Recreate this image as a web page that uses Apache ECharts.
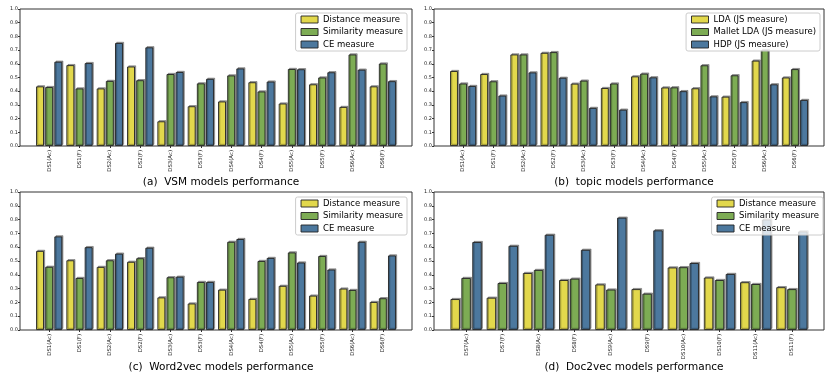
<!DOCTYPE html>
<html>
<head>
<meta charset="utf-8">
<script src="https://cdn.jsdelivr.net/npm/echarts@6/dist/echarts.min.js"></script>
<style>
  html, body { margin: 0; padding: 0; background: #fff; }
  #chart { width: 830px; height: 374px; }
</style>
</head>
<body>
<div id="chart"></div>
<script>
// Categories
const catsA = ['DS1(Ac)', 'DS1(F)', 'DS2(Ac)', 'DS2(F)', 'DS3(Ac)', 'DS3(F)', 'DS4(Ac)', 'DS4(F)', 'DS5(Ac)', 'DS5(F)', 'DS6(Ac)', 'DS6(F)'];
const catsD = ['DS7(Ac)', 'DS7(F)', 'DS8(Ac)', 'DS8(F)', 'DS9(Ac)', 'DS9(F)', 'DS10(Ac)', 'DS10(F)', 'DS11(Ac)', 'DS11(F)'];

// (a) VSM
const vsmDistance   = [0.435, 0.59, 0.42, 0.58, 0.18, 0.29, 0.325, 0.465, 0.31, 0.45, 0.285, 0.435];
const vsmSimilarity = [0.43, 0.42, 0.475, 0.48, 0.525, 0.457, 0.515, 0.398, 0.562, 0.50, 0.668, 0.602];
const vsmCE         = [0.615, 0.605, 0.752, 0.72, 0.54, 0.49, 0.566, 0.47, 0.56, 0.538, 0.557, 0.473];

// (b) topic models
const topicLDA    = [0.547, 0.525, 0.668, 0.68, 0.455, 0.423, 0.508, 0.427, 0.421, 0.36, 0.623, 0.50];
const topicMallet = [0.456, 0.472, 0.668, 0.685, 0.477, 0.456, 0.528, 0.428, 0.589, 0.516, 0.70, 0.561];
const topicHDP    = [0.438, 0.368, 0.537, 0.498, 0.278, 0.265, 0.501, 0.40, 0.362, 0.32, 0.45, 0.336];

// (c) Word2vec
const w2vDistance   = [0.573, 0.505, 0.457, 0.494, 0.236, 0.192, 0.292, 0.225, 0.32, 0.249, 0.30, 0.203];
const w2vSimilarity = [0.458, 0.377, 0.505, 0.52, 0.382, 0.348, 0.639, 0.50, 0.562, 0.536, 0.29, 0.23];
const w2vCE         = [0.678, 0.60, 0.553, 0.596, 0.386, 0.348, 0.659, 0.522, 0.489, 0.438, 0.639, 0.54];

// (d) Doc2vec
const d2vDistance   = [0.224, 0.234, 0.413, 0.362, 0.33, 0.296, 0.453, 0.38, 0.346, 0.31];
const d2vSimilarity = [0.377, 0.34, 0.435, 0.372, 0.293, 0.263, 0.455, 0.362, 0.333, 0.296];
const d2vCE         = [0.637, 0.61, 0.69, 0.581, 0.814, 0.722, 0.485, 0.406, 0.80, 0.714];

const YELLOW = '#e2d84c', GREEN = '#7dac54', BLUE = '#4c789e';
const FONT = 'DejaVu Sans';

const panels = [
    { title: '(a)  VSM models performance', left: 20, top: 9, width: 392, height: 137, titleTop: 172, legendRight: 423, legendTop: 13,
      cats: catsA, series: [['Distance measure', vsmDistance, YELLOW], ['Similarity measure', vsmSimilarity, GREEN], ['CE measure', vsmCE, BLUE]] },
    { title: '(b)  topic models performance', left: 434, top: 9, width: 390, height: 137, titleTop: 172, legendRight: 10, legendTop: 13,
      cats: catsA, series: [['LDA (JS measure)', topicLDA, YELLOW], ['Mallet LDA (JS measure)', topicMallet, GREEN], ['HDP (JS measure)', topicHDP, BLUE]] },
    { title: '(c)  Word2vec models performance', left: 20, top: 192, width: 392, height: 138, titleTop: 357, legendRight: 423, legendTop: 197,
      cats: catsA, series: [['Distance measure', w2vDistance, YELLOW], ['Similarity measure', w2vSimilarity, GREEN], ['CE measure', w2vCE, BLUE]] },
    { title: '(d)  Doc2vec models performance', left: 434, top: 192, width: 390, height: 138, titleTop: 357, legendRight: 7, legendTop: 197,
      cats: catsD, series: [['Distance measure', d2vDistance, YELLOW], ['Similarity measure', d2vSimilarity, GREEN], ['CE measure', d2vCE, BLUE]] }
];

const grid = [], xAxis = [], yAxis = [], series = [], title = [], legend = [];
const inset = 14;

panels.forEach((p, i) => {
    const f = 2 * i, d = 2 * i + 1;
    // frame grid: box + y axis
    grid.push({ left: p.left, top: p.top, width: p.width, height: p.height, show: true,
        borderColor: '#333', borderWidth: 1, backgroundColor: 'transparent' });
    // data grid: narrower so categories have matplotlib-like margins
    grid.push({ left: p.left + inset, top: p.top, width: p.width - 2 * inset, height: p.height });

    xAxis.push({ gridIndex: f, type: 'value', show: false, min: 0, max: 1, splitLine: { show: false } });
    xAxis.push({ gridIndex: d, type: 'category', data: p.cats,
        axisLine: { show: false },
        axisTick: { show: true, alignWithLabel: true, length: 2, lineStyle: { color: '#333' } },
        axisLabel: { rotate: 90, fontSize: 5.4, margin: 4, color: '#222', fontFamily: FONT, interval: 0 } });

    yAxis.push({ gridIndex: f, type: 'value', min: 0, max: 1, interval: 0.1,
        axisLine: { show: false }, splitLine: { show: false },
        axisTick: { show: true, length: 2, lineStyle: { color: '#333' } },
        axisLabel: { fontSize: 5, margin: 2, color: '#222', fontFamily: FONT, formatter: v => v.toFixed(1) } });
    yAxis.push({ gridIndex: d, type: 'value', min: 0, max: 1, show: false, splitLine: { show: false } });

    p.series.forEach(([name, values, color]) => {
        series.push({ name, type: 'bar', xAxisIndex: d, yAxisIndex: d, data: values,
            barWidth: '26%', barGap: '16%',
            itemStyle: { color, borderColor: '#222', borderWidth: 0.9,
                shadowColor: 'rgba(0,0,0,0.35)', shadowOffsetX: 1.2, shadowOffsetY: -1.2, shadowBlur: 0 },
            emphasis: { disabled: true } });
    });

    title.push({ text: p.title, left: p.left + p.width / 2, top: p.titleTop, textAlign: 'center',
        textStyle: { fontSize: 10.5, fontWeight: 'normal', color: '#000', fontFamily: FONT } });

    legend.push({ data: p.series.map(s => s[0]), orient: 'vertical', right: p.legendRight, top: p.legendTop,
        icon: 'rect', itemWidth: 17, itemHeight: 7, itemGap: 3.5, padding: [2, 4, 2, 5],
        backgroundColor: 'rgba(255,255,255,0.8)', borderColor: '#ccc', borderWidth: 1, borderRadius: 2,
        itemStyle: { borderColor: '#222', borderWidth: 0.9, shadowBlur: 0, shadowOffsetX: 0, shadowOffsetY: 0 },
        textStyle: { fontSize: 8.5, color: '#000', fontFamily: FONT },
        selectedMode: false, z: 10 });
});

const chart = echarts.init(document.getElementById('chart'), null, { renderer: 'canvas' });
chart.setOption({ animation: false, title, legend, grid, xAxis, yAxis, series });
</script>
</body>
</html>
